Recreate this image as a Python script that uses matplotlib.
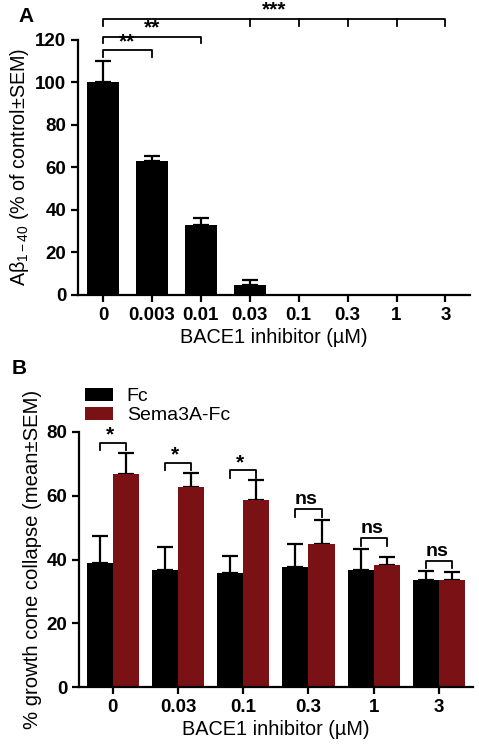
import matplotlib
matplotlib.use("Agg")
import matplotlib.pyplot as plt
import numpy as np

plt.rcParams['font.family'] = ['Liberation Sans', 'DejaVu Sans']
plt.rcParams['mathtext.fontset'] = 'custom'
plt.rcParams['mathtext.rm'] = 'Liberation Sans'
plt.rcParams['mathtext.it'] = 'Liberation Sans'

# panel A data
doses_a = ['0', '0.003', '0.01', '0.03', '0.1', '0.3', '1', '3']
abeta = [100, 63, 33, 4.4, 0, 0, 0, 0]
abeta_err = [10, 2.3, 3.2, 2.6, 0, 0, 0, 0]

# panel B data
doses_b = ['0', '0.03', '0.1', '0.3', '1', '3']
fc = [39, 36.8, 35.8, 37.8, 36.8, 33.5]
fc_err = [8.5, 7.2, 5.3, 7.0, 6.6, 2.8]
sema = [66.8, 62.6, 58.6, 45, 38.4, 33.5]
sema_err = [6.7, 4.6, 6.2, 7.5, 2.5, 2.5]
sig_b = ['*', '*', '*', 'ns', 'ns', 'ns']

red = '#7a1114'
lw = 1.6

fig = plt.figure(figsize=(4.79, 7.5), dpi=100)

# ---------- panel A ----------
ax1 = fig.add_axes([0.163, 0.607, 0.818, 0.340])
xa = np.arange(len(doses_a))
ax1.bar(xa, abeta, width=0.65, color='black', zorder=2)
ax1.errorbar(xa[:4], abeta[:4], yerr=[np.zeros(4), abeta_err[:4]], fmt='none',
             ecolor='black', elinewidth=lw, capsize=6, capthick=lw, zorder=1)
ax1.set_xlim(-0.51, 7.5)
ax1.set_ylim(0, 120)
ax1.set_yticks([0, 20, 40, 60, 80, 100, 120])
ax1.set_xticks(xa)
ax1.set_xticklabels(doses_a)
ax1.set_xlabel('BACE1 inhibitor (µM)', fontsize=14.3, labelpad=3)
ax1.set_ylabel(r'A$\beta_{1-40}$ (% of control±SEM)', fontsize=14.2, labelpad=3)

# significance brackets
def bracket(ax, x0, x1, y, drop, label, extra=()):
    ax.plot([x0, x0, x1, x1], [y - drop, y, y, y - drop], color='black',
            lw=1.3, clip_on=False)
    for xe in extra:
        ax.plot([xe, xe], [y, y - drop], color='black', lw=1.3, clip_on=False)
    ax.text((x0 + x1) / 2, y - 0.5, label, ha='center', va='bottom',
            fontsize=15, fontweight='bold', clip_on=False)

bracket(ax1, 0, 1, 115, 3, '**')
bracket(ax1, 0, 2, 121.5, 3, '**')
bracket(ax1, 0, 7, 130, 3.3, '***', extra=[3, 4, 5, 6])

# ---------- panel B ----------
ax2 = fig.add_axes([0.165, 0.084, 0.822, 0.340])
xb = np.arange(len(doses_b))
w = 0.4
ax2.bar(xb - w / 2, fc, width=w, color='black', label='Fc', zorder=2)
ax2.bar(xb + w / 2, sema, width=w, color=red, label='Sema3A-Fc', zorder=2)
ax2.errorbar(xb - w / 2, fc, yerr=[np.zeros(len(fc)), fc_err], fmt='none',
             ecolor='black', elinewidth=lw, capsize=6, capthick=lw, zorder=1)
ax2.errorbar(xb + w / 2, sema, yerr=[np.zeros(len(sema)), sema_err], fmt='none',
             ecolor='black', elinewidth=lw, capsize=6, capthick=lw, zorder=1)
ax2.set_xlim(-0.52, 5.52)
ax2.set_ylim(0, 80)
ax2.set_yticks([0, 20, 40, 60, 80])
ax2.set_xticks(xb)
ax2.set_xticklabels(doses_b)
ax2.set_xlabel('BACE1 inhibitor (µM)', fontsize=14.3, labelpad=3)
ax2.set_ylabel('% growth cone collapse (mean±SEM)', fontsize=14.6, labelpad=3)

for i, lab in enumerate(sig_b):
    top = max(fc[i] + fc_err[i], sema[i] + sema_err[i])
    y = top + 3.2
    ax2.plot([i - w / 2, i - w / 2, i + w / 2, i + w / 2],
             [y - 2.3, y, y, y - 2.3], color='black', lw=1.3, clip_on=False)
    if lab == '*':
        ax2.text(i - 0.05, y - 0.6, lab, ha='center', va='bottom',
                 fontsize=15, fontweight='bold')
    else:
        ax2.text(i - 0.03, y + 0.4, lab, ha='center', va='bottom',
                 fontsize=14, fontweight='bold')

ax2.legend(loc='lower left', bbox_to_anchor=(-0.005, 1.0), frameon=False,
           fontsize=14, handlelength=1.45, handleheight=0.6, labelspacing=0.1,
           borderaxespad=0, handletextpad=0.7)

for ax in (ax1, ax2):
    for s in ('top', 'right'):
        ax.spines[s].set_visible(False)
    for s in ('left', 'bottom'):
        ax.spines[s].set_linewidth(lw)
    ax.tick_params(width=lw, length=5, labelsize=13.5)
    for t in ax.get_xticklabels() + ax.get_yticklabels():
        t.set_fontweight('bold')

fig.text(0.038, 0.978, 'A', fontsize=15, fontweight='bold', va='center')
fig.text(0.025, 0.508, 'B', fontsize=15, fontweight='bold', va='center')

fig.savefig('out.png', dpi=100)
